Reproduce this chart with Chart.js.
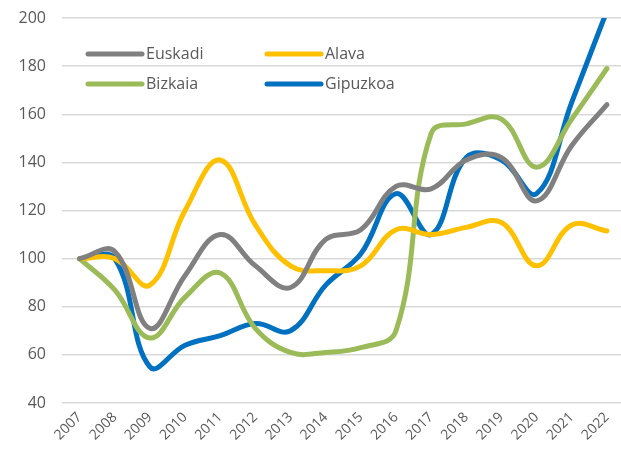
<!DOCTYPE html>
<html>
<head>
<meta charset="utf-8">
<script src="https://cdn.jsdelivr.net/npm/chart.js@4/dist/chart.umd.min.js"></script>
<style>
  html, body { margin: 0; padding: 0; background: #fff; }
  #wrap { width: 621px; height: 458px; }
</style>
</head>
<body>
<div id="wrap"><canvas id="line-chart"></canvas></div>
<script>
// data
const years = [2007, 2008, 2009, 2010, 2011, 2012, 2013, 2014, 2015, 2016, 2017, 2018, 2019, 2020, 2021, 2022];
const euskadi  = [100, 103, 71, 93, 110, 97, 88, 108, 112, 130, 129, 141, 142, 124, 147, 164];
const alava    = [100, 100, 89, 120, 141, 114, 97, 95, 97, 112, 110, 113, 115, 97, 114, 111.5];
const bizkaia  = [100, 87, 67, 84, 94, 71, 61, 61, 63, 70, 152, 156, 158, 138, 158, 179];
const gipuzkoa = [100, 100, 55, 64, 68, 73, 70, 89, 102, 127, 110, 142, 141, 127, 165, 203];
const yTicks = [40, 60, 80, 100, 120, 140, 160, 180, 200];

const grey = '#595959';

function series(label, values, color) {
  return {
    label: label,
    data: values.map((v, i) => ({ x: years[i], y: v })),
    borderColor: color,
    backgroundColor: color,
    borderWidth: 5,
    pointRadius: 0,
    tension: 0.4,
    borderCapStyle: 'round',
    fill: false
  };
}

// legend drawn inside the plot, two columns like the original
const insideLegend = {
  id: 'insideLegend',
  afterDraw(chart) {
    const c = chart.ctx;
    const a = chart.chartArea;
    const cols = [a.left + 26, a.left + 205];
    const rows = [a.top + 36, a.top + 66];
    c.save();
    c.font = '16px "Open Sans"';
    c.textBaseline = 'middle';
    chart.data.datasets.forEach((ds, i) => {
      const x = cols[i % 2], y = rows[Math.floor(i / 2)];
      c.strokeStyle = ds.borderColor;
      c.lineWidth = 5;
      c.lineCap = 'round';
      c.beginPath();
      c.moveTo(x, y);
      c.lineTo(x + 54, y);
      c.stroke();
      c.fillStyle = grey;
      c.fillText(ds.label, x + 58, y);
    });
    c.restore();
  }
};

new Chart(document.getElementById('line-chart').getContext('2d'), {
  type: 'line',
  data: {
    datasets: [
      series('Euskadi', euskadi, '#808080'),
      series('Alava', alava, '#FFC000'),
      series('Bizkaia', bizkaia, '#9BBB59'),
      series('Gipuzkoa', gipuzkoa, '#0070C0')
    ]
  },
  options: {
    responsive: true,
    maintainAspectRatio: false,
    animation: false,
    layout: { padding: { top: 18, right: 0, left: 0, bottom: 0 } },
    plugins: {
      legend: { display: false },
      tooltip: { enabled: false }
    },
    scales: {
      x: {
        type: 'linear',
        min: 2006.5,
        max: 2022.4,
        afterBuildTicks: axis => { axis.ticks = years.map(v => ({ value: v })); },
        afterFit: axis => { axis.height = 55; axis.paddingLeft = 0; axis.paddingRight = 0; },
        grid: { display: false, drawTicks: false },
        border: { display: false },
        ticks: {
          autoSkip: false,
          maxRotation: 45,
          minRotation: 45,
          padding: 6,
          color: grey,
          font: { size: 14, family: 'Open Sans' },
          callback: v => String(v)
        }
      },
      y: {
        min: 40,
        max: 200,
        afterBuildTicks: axis => { axis.ticks = yTicks.map(v => ({ value: v })); },
        afterFit: axis => { axis.width = 62; axis.paddingTop = 0; axis.paddingBottom = 0; },
        grid: { color: '#d9d9d9', lineWidth: 1.5, drawTicks: false },
        border: { display: false },
        ticks: {
          padding: 16,
          color: grey,
          font: { size: 16, family: 'Open Sans' }
        }
      }
    }
  },
  plugins: [insideLegend]
});
</script>
</body>
</html>
